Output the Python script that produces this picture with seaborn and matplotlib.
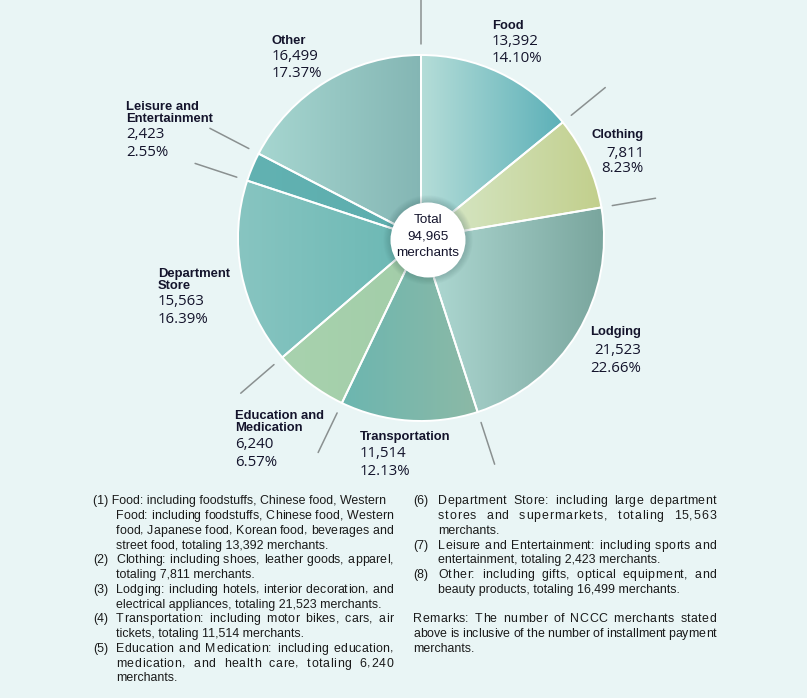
import numpy as np
import matplotlib
matplotlib.use("Agg")
import matplotlib.pyplot as plt
from matplotlib.patches import Circle
from matplotlib.font_manager import FontProperties, findfont
from matplotlib.ft2font import FT2Font
import seaborn as sns

# ── DATA ──────────────────────────────────────────────────────────────────────
CATEGORIES = ["Food", "Clothing", "Lodging", "Transportation",
              "Education and\nMedication", "Department\nStore",
              "Leisure and\nEntertainment", "Other"]
MERCHANTS  = [13392, 7811, 21523, 11514, 6240, 15563, 2423, 16499]
PCT_LABELS = ["14.10%", "8.23%", "22.66%", "12.13%",
              "6.57%", "16.39%", "2.55%", "17.37%"]

LEFT_NOTES = [
    (None,  "(1) Food: including foodstuffs, Chinese food, Western", False),
    ("",    "Food: including foodstuffs, Chinese food, Western", True),
    ("",    "food, Japanese food, Korean food, beverages and", True),
    ("",    "street food, totaling 13,392 merchants.", False),
    ("(2)", "Clothing: including shoes, leather goods, apparel,", True),
    ("",    "totaling 7,811 merchants.", False),
    ("(3)", "Lodging: including hotels, interior decoration, and", True),
    ("",    "electrical appliances, totaling 21,523 merchants.", False),
    ("(4)", "Transportation: including motor bikes, cars, air", True),
    ("",    "tickets, totaling 11,514 merchants.", False),
    ("(5)", "Education and Medication: including education,", True),
    ("",    "medication, and health care, totaling 6,240", True),
    ("",    "merchants.", False),
]
RIGHT_NOTES = [
    ("(6)", "Department Store: including large department", True),
    ("",    "stores and supermarkets, totaling 15,563", True),
    ("",    "merchants.", False),
    ("(7)", "Leisure and Entertainment: including sports and", True),
    ("",    "entertainment, totaling 2,423 merchants.", False),
    ("(8)", "Other: including gifts, optical equipment, and", True),
    ("",    "beauty products, totaling 16,499 merchants.", False),
    (None,  "", False),
    (None,  "Remarks: The number of NCCC merchants stated", True),
    (None,  "above is inclusive of the number of installment payment", True),
    (None,  "merchants.", False),
]

# ── STYLE ─────────────────────────────────────────────────────────────────────
BG     = "#e9f5f5"
INK    = "#14142c"
LEADER = "#8a9090"

# left -> right colour of each wedge's horizontal gradient
GRADIENTS = [("#b5ddd8", "#5cb0b8"), ("#d8e9cc", "#c2cf8c"),
             ("#b0dad4", "#78a49c"), ("#6cb6b0", "#8cb9a6"),
             ("#a8d2ae", "#a2cda8"), ("#88c5c1", "#69b7b3"),
             ("#62b2b2", "#5cadad"), ("#a6d6d0", "#84b6b4")]

# label anchor (px, visual line centres): x, ha, title y, number y, pct y
LABEL_POS = [(492, "left", 24, 40, 57),
             (644, "right", 133, 152, 167),
             (641, "right", 330, 349, 367),
             (360, "left", 435, 452, 470),
             (235, "left", 414, 443, 461),
             (158, "left", 272, 300, 318),
             (126, "left", 105, 133, 151),
             (272, "left", 39, 55, 72)]

sns.set_theme(style="white")
plt.rcParams["font.family"] = ["Liberation Sans", "DejaVu Sans"]

W, H = 807, 698
CX, CY, R = 421, 238, 183

fig = plt.figure(figsize=(W / 100, H / 100), dpi=100, facecolor=BG)

# ── PIE ───────────────────────────────────────────────────────────────────────
ax = fig.add_axes([(CX - R) / W, (H - CY - R) / H, 2 * R / W, 2 * R / H])
ax.set_facecolor("none")
wedges, _ = ax.pie(MERCHANTS, startangle=90, counterclock=False, radius=1,
                   wedgeprops=dict(edgecolor="white", linewidth=1.4))

grad = np.linspace(0, 1, 256).reshape(1, -1)
for w, (c0, c1) in zip(wedges, GRADIENTS):
    verts = w.get_path().vertices
    cmap = sns.blend_palette([c0, c1], as_cmap=True)
    im = ax.imshow(grad, cmap=cmap, extent=(verts[:, 0].min(), verts[:, 0].max(), -1, 1),
                   aspect="auto", zorder=1, interpolation="bilinear")
    im.set_clip_path(w)
    w.set_facecolor("none")
    w.set_zorder(2)

# leader ticks at wedge boundaries
bounds = 90 - 360 * np.cumsum([0] + MERCHANTS[:-1]) / sum(MERCHANTS)
for a in np.deg2rad(bounds):
    ax.plot([1.06 * np.cos(a), 1.30 * np.cos(a)], [1.06 * np.sin(a), 1.30 * np.sin(a)],
            color=LEADER, lw=1.1, clip_on=False, zorder=3)

ax.set_xlim(-1, 1)
ax.set_ylim(-1, 1)
ax.set_aspect("equal")
ax.axis("off")

# ── OVERLAY (pixel coords) ────────────────────────────────────────────────────
tx = fig.add_axes([0, 0, 1, 1])
tx.set_xlim(0, W)
tx.set_ylim(H, 0)
tx.axis("off")

# centre disc with soft shadow
for k in range(8, 0, -1):
    tx.add_patch(Circle((428, 240), 37.5 + k * 0.9, color="#3f6464", alpha=0.035, lw=0))
tx.add_patch(Circle((428, 240), 37.5, color="white", lw=0))
for txt, y in zip(["Total", f"{sum(MERCHANTS):,}", "merchants"], [218, 235, 251]):
    tx.text(428, y + 4.8, txt, ha="center", va="baseline", fontsize=9.7, color=INK)

# category labels (baseline = visual centre + half cap height)
for cat, n, pct, (x, ha, yt, yn, yp) in zip(CATEGORIES, MERCHANTS, PCT_LABELS, LABEL_POS):
    for i, line in enumerate(cat.split("\n")):
        tx.text(x, yt + 4.7 + i * 12.5, line, ha=ha, va="baseline", fontsize=9.4,
                fontweight="bold", color=INK)
    tx.text(x, yn + 5.4, f"{n:,}", ha=ha, va="baseline", fontsize=10.8,
            family="Open Sans", color=INK)
    tx.text(x, yp + 5.4, pct, ha=ha, va="baseline", fontsize=10.8,
            family="Open Sans", color=INK)

# ── NOTES ─────────────────────────────────────────────────────────────────────
NOTE_SIZE = 8.9
NOTE_KW = dict(fontsize=NOTE_SIZE, color="#1a1a1a", va="baseline")
ft = FT2Font(findfont(FontProperties(family="Liberation Sans")))
ft.set_size(NOTE_SIZE, 100)


def advance(ch):
    return ft.load_char(ord(ch)).linearHoriAdvance / 65536


def note_line(x0, x1, y, text, justify):
    if not justify:
        tx.text(x0, y, text, ha="left", **NOTE_KW)
        return
    # justify: spread the spare width over word gaps (heavier) and letter gaps
    adv = [advance(c) for c in text]
    spare = (x1 - x0) - sum(adv)
    weights = [4.0 if (text[i] == " " or text[i + 1] == " ") else 1.0
               for i in range(len(text) - 1)]
    unit = spare / sum(weights)
    x = x0
    for i, c in enumerate(text):
        if c != " ":
            tx.text(x, y, c, ha="left", **NOTE_KW)
        x += adv[i] + (weights[i] * unit if i < len(weights) else 0)


def note_column(lines, xm, xt, xr):
    for i, (mark, text, just) in enumerate(lines):
        y = 500 + 14.75 * i + 4.4
        if mark is None:
            note_line(xm, xr, y, text, just)
        else:
            if mark:
                tx.text(xm, y, mark, ha="left", **NOTE_KW)
            note_line(xt, xr, y, text, just)


note_column(LEFT_NOTES, 93, 116, 393)
note_column(RIGHT_NOTES, 413, 438, 716)

fig.savefig("out.png", dpi=100, facecolor=BG)
